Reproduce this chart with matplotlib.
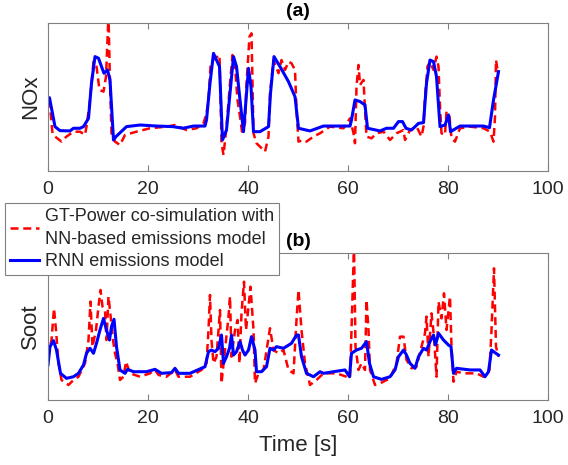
import matplotlib
matplotlib.use('Agg')
import matplotlib.pyplot as plt

plt.rcParams['font.family'] = ['Liberation Sans', 'DejaVu Sans']

# (a) NOx - RNN emissions model
t_nox_rnn = [0.0, 0.3, 1.4, 2.4, 4.4, 5.1, 6.4, 7.1, 8.1, 8.7, 9.4, 10.1, 10.7, 11.2, 11.9, 12.4,
             13.1, 13.6, 15.7, 18.4, 21.7, 25.0, 27.0, 29.1, 31.4, 31.7, 32.4, 33.1, 33.7, 34.3,
             34.9, 35.7, 36.4, 37.1, 37.7, 38.4, 39.1, 39.6, 40.1, 40.6, 41.1, 42.4, 44.1, 44.5,
             45.2, 46.4, 48.1, 49.4, 50.1, 52.4, 55.1, 60.4, 60.7, 61.4, 62.4, 63.4, 63.9, 66.4,
             67.7, 69.1, 70.1, 70.9, 71.6, 72.7, 74.1, 75.1, 75.7, 76.4, 77.1, 77.7, 78.4, 79.4,
             80.1, 80.5, 82.4, 85.1, 87.1, 88.3, 89.1, 90.1]
nox_rnn = [45.6, 49.4, 29.9, 27.2, 27.0, 28.8, 28.8, 29.9, 35.5, 59.1, 77.1, 76.0, 70.4, 65.9, 68.1, 61.4,
           20.9, 23.2, 29.9, 31.0, 30.3, 29.9, 28.8, 30.3, 30.3, 34.4, 59.1, 79.3, 74.8, 70.4,
           20.9, 27.6, 52.4, 77.1, 70.4, 47.9, 26.5, 47.9, 69.2, 56.9, 26.5, 26.5, 29.9, 52.4,
           77.1, 70.4, 60.2, 50.1, 28.8, 27.0, 30.3, 30.3, 34.4, 47.9, 46.8, 44.5, 28.8, 27.0,
           28.8, 28.8, 33.3, 33.3, 28.8, 27.6, 32.1, 32.6, 59.1, 74.8, 73.7, 63.6, 29.9, 31.0,
           37.8, 26.5, 30.3, 30.3, 30.3, 29.2, 47.9, 67.0]

# (a) NOx - GT-Power co-simulation
t_nox_gt = [0.0, 0.4, 0.9, 1.4, 2.7, 3.7, 5.1, 6.4, 7.4, 7.7, 8.4, 9.1, 9.7, 10.3, 11.1, 11.6, 12.1,
            12.4, 12.7, 13.4, 14.4, 15.4, 17.7, 20.4, 23.7, 25.4, 27.7, 29.7, 31.1, 31.7, 32.1,
            32.5, 33.2, 33.9, 34.3, 34.5, 34.7, 35.1, 35.7, 36.4, 36.9, 37.4, 37.9, 38.4, 38.8,
            39.4, 39.7, 40.3, 40.7, 41.1, 41.7, 42.4, 43.4, 44.1, 44.4, 45.1, 46.1, 46.7, 47.4,
            48.1, 48.7, 49.4, 49.7, 50.1, 51.1, 51.7, 53.1, 54.4, 56.4, 59.1, 60.4, 61.1, 61.4,
            61.7, 62.1, 62.4, 63.1, 63.4, 63.7, 64.7, 65.7, 67.1, 68.4, 69.7, 71.1, 71.4, 72.4,
            73.7, 74.7, 75.1, 75.4, 75.9, 76.4, 77.1, 77.7, 78.1, 78.4, 78.7, 79.4, 79.7, 80.3,
            80.7, 81.4, 82.4, 84.4, 87.1, 88.4, 89.1, 89.4, 89.6, 89.9, 90.1]
nox_gt = [47.9, 43.4, 25.4, 23.2, 19.8, 23.2, 26.5, 26.5, 24.3, 29.9, 47.9, 73.7, 70.4, 54.6, 53.5, 63.6, 105.0,
          59.1, 25.4, 19.8, 17.5, 24.3, 26.5, 28.8, 29.9, 31.0, 27.6, 28.8, 32.1, 38.9, 47.9,
          70.4, 76.0, 77.1, 78.2, 50.1, 18.7, 10.8, 29.9, 59.1, 78.2, 70.4, 47.9, 36.6, 26.5,
          32.1, 59.1, 90.6, 92.8, 25.4, 18.7, 16.4, 13.0, 23.2, 52.4, 74.8, 65.9, 74.8, 68.1,
          73.7, 72.6, 68.1, 41.1, 19.8, 20.9, 19.8, 23.2, 25.4, 29.9, 28.8, 35.5, 25.4, 18.7,
          56.9, 71.5, 58.0, 61.4, 41.1, 23.2, 22.0, 25.4, 26.5, 20.9, 25.4, 27.6, 20.9, 27.6,
          29.9, 23.2, 29.9, 50.1, 70.4, 73.7, 68.1, 77.1, 70.4, 43.4, 25.4, 24.3, 40.0, 36.6,
          22.0, 19.8, 28.8, 29.9, 28.8, 26.5, 19.8, 36.6, 74.8, 68.1, 65.9]

# (b) Soot - RNN emissions model
t_soot_rnn = [0.0, 0.4, 1.1, 1.7, 2.5, 3.7, 5.1, 6.1, 7.1, 7.7, 8.4, 9.1, 9.7, 10.4, 11.1, 11.7, 12.3,
              12.7, 13.2, 13.7, 14.4, 15.4, 15.9, 17.1, 19.7, 21.4, 22.7, 24.7, 25.4, 26.1, 28.4,
              31.4, 32.1, 32.7, 33.4, 34.1, 34.7, 35.1, 35.7, 36.3, 36.7, 37.1, 37.7, 38.4, 38.9,
              39.4, 40.1, 40.7, 41.4, 41.7, 42.7, 43.7, 44.4, 45.1, 45.7, 47.1, 48.7, 49.7, 50.1,
              50.7, 51.7, 53.1, 54.4, 55.1, 57.1, 59.4, 60.3, 60.7, 61.7, 62.7, 63.7, 64.3, 65.1,
              66.7, 68.4, 69.4, 70.1, 71.1, 71.7, 72.4, 73.4, 74.1, 75.1, 75.7, 76.4, 77.1, 77.5,
              78.1, 79.1, 80.1, 80.6, 81.1, 81.7, 84.4, 86.4, 87.4, 88.1, 88.7, 89.4, 90.1]
soot_rnn = [23.8, 36.2, 40.3, 33.9, 18.1, 14.7, 15.8, 18.1, 23.8, 31.7, 35.1, 31.7, 38.5, 47.5, 55.4, 47.5, 40.7,
            49.8, 54.8, 36.2, 20.4, 18.1, 20.8, 19.2, 19.2, 20.8, 18.1, 18.6, 21.5, 18.1, 18.1,
            22.6, 32.8, 33.9, 32.8, 35.1, 44.1, 24.9, 29.4, 35.1, 44.1, 30.5, 32.8, 39.6, 33.9,
            30.5, 33.9, 43.0, 33.9, 19.2, 19.2, 22.6, 35.1, 33.9, 36.2, 35.1, 38.5, 44.1, 44.1,
            29.4, 18.1, 15.8, 19.2, 18.1, 19.2, 20.4, 15.8, 31.7, 33.9, 35.1, 39.6, 24.9, 15.8,
            14.0, 15.8, 20.4, 29.4, 33.9, 30.5, 24.9, 21.5, 29.4, 35.1, 33.9, 39.6, 44.1, 37.3,
            45.3, 40.7, 37.3, 36.2, 18.1, 21.5, 20.4, 20.4, 15.8, 19.2, 33.9, 32.1, 30.5]

# (b) Soot - GT-Power co-simulation
t_soot_gt = [0.0, 0.7, 1.2, 1.6, 2.1, 2.7, 4.1, 5.1, 6.1, 7.4, 8.1, 8.5, 8.9, 9.6, 10.1, 10.5, 10.9,
             11.4, 11.7, 12.1, 12.5, 12.9, 13.4, 13.9, 14.4, 15.1, 15.6, 16.4, 18.4, 20.4, 21.4,
             22.1, 23.7, 25.4, 26.1, 28.4, 30.7, 31.7, 32.1, 32.4, 32.7, 33.1, 33.7, 34.4, 34.7,
             35.4, 36.1, 36.4, 36.7, 37.4, 37.9, 38.3, 38.7, 39.2, 39.6, 40.1, 40.5, 41.1, 41.4,
             42.1, 43.1, 44.4, 45.1, 46.1, 47.1, 48.1, 49.1, 49.7, 50.1, 50.7, 51.4, 52.4, 53.7,
             55.1, 57.7, 59.7, 60.4, 60.7, 61.2, 61.5, 62.1, 62.7, 63.4, 63.7, 64.1, 64.4, 65.4,
             66.4, 68.4, 69.7, 70.4, 71.1, 71.7, 72.7, 73.7, 74.7, 75.4, 75.7, 76.1, 76.7, 77.2,
             77.7, 78.1, 78.7, 79.2, 79.7, 80.4, 80.7, 81.1, 81.7, 83.1, 85.7, 87.1, 88.3, 88.7,
             89.2, 89.6, 90.1]
soot_gt = [29.4, 40.7, 62.2, 47.5, 24.9, 13.6, 10.2, 13.6, 15.8, 24.9, 40.7, 66.8, 36.2, 47.5, 63.4, 74.7, 63.4,
           61.1, 40.7, 70.2, 57.7, 43.0, 31.7, 24.9, 13.6, 15.8, 26.0, 18.1, 15.8, 18.1, 20.4,
           17.0, 15.8, 20.4, 15.8, 15.8, 20.4, 24.9, 47.5, 71.3, 40.7, 24.9, 29.4, 61.1, 11.3,
           33.9, 56.6, 70.2, 29.4, 47.5, 54.3, 24.9, 58.8, 80.3, 47.5, 63.4, 76.9, 47.5, 11.3,
           18.1, 20.4, 48.7, 33.9, 31.7, 33.9, 20.4, 18.1, 54.3, 74.7, 47.5, 24.9, 10.2, 13.6,
           18.1, 18.1, 15.8, 14.7, 47.5, 105.0, 36.2, 20.4, 24.9, 20.4, 67.9, 47.5, 20.4, 10.2,
           11.3, 14.7, 24.9, 43.0, 43.0, 27.2, 21.5, 22.6, 36.2, 45.3, 56.6, 29.4, 58.8, 43.0,
           15.8, 66.8, 55.4, 72.4, 47.5, 70.2, 36.2, 12.4, 19.2, 18.1, 18.1, 15.8, 20.4, 47.5,
           89.4, 36.2, 29.4]

x_ticks = [0, 20, 40, 60, 80, 100]
panel_titles = ['(a)', '(b)']
y_labels = ['NOx', 'Soot']
gt_label = 'GT-Power co-simulation with\nNN-based emissions model'
rnn_label = 'RNN emissions model'

fig = plt.figure(figsize=(5.68, 4.65), dpi=100)
ax1 = fig.add_axes([0.0845, 0.6323, 0.8803, 0.319])
ax2 = fig.add_axes([0.0845, 0.1398, 0.8803, 0.3168])

panels = [(ax1, t_nox_gt, nox_gt, t_nox_rnn, nox_rnn),
          (ax2, t_soot_gt, soot_gt, t_soot_rnn, soot_rnn)]

for i, (ax, tg, yg, tr, yr) in enumerate(panels):
    red, = ax.plot(tg, yg, color='#ff0000', lw=1.8, dashes=(3.2, 1.9))
    blue, = ax.plot(tr, yr, color='#0000ff', lw=2.2)
    ax.set_xlim(0, 100)
    ax.set_ylim(0, 100)
    ax.set_xticks(x_ticks)
    ax.set_yticks([])
    ax.tick_params(axis='x', direction='in', top=True, length=4, width=0.8,
                   color='#808080', labelcolor='#262626', labelsize=14, pad=7)
    for s in ax.spines.values():
        s.set_color('#808080')
        s.set_linewidth(0.8)
    ax.set_title(panel_titles[i], fontsize=14, fontweight='bold', color='#000000', pad=5)
    ax.set_ylabel(y_labels[i], fontsize=16, color='#262626', labelpad=5)

ax2.set_xlabel('Time [s]', fontsize=16, color='#262626', labelpad=6)

leg = fig.legend([red, blue], [gt_label, rnn_label], loc='upper left',
                 bbox_to_anchor=(5 / 568, 1 - 203 / 465), borderaxespad=0,
                 fontsize=13, frameon=True, fancybox=False, framealpha=1,
                 edgecolor='#808080', handlelength=1.6, handletextpad=0.3,
                 borderpad=0.3, labelspacing=0.3)
leg.get_frame().set_linewidth(0.8)
for txt in leg.get_texts():
    txt.set_linespacing(1.4)
    txt.set_color('#262626')

fig.savefig('out.png', dpi=100)
